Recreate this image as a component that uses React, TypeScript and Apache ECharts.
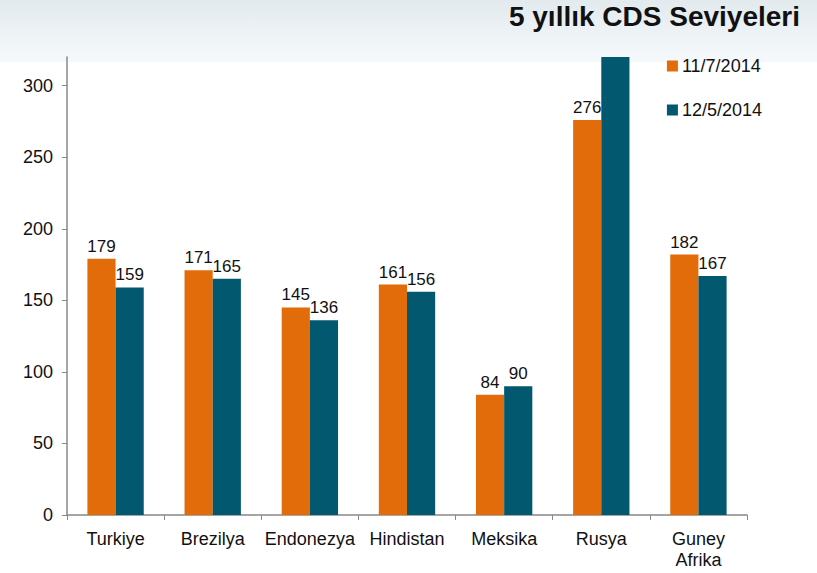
import React, { useEffect, useRef } from "react";
import * as echarts from "echarts";

const categories = ["Turkiye", "Brezilya", "Endonezya", "Hindistan", "Meksika", "Rusya", "Guney\nAfrika"];
const seriesNov = [179, 171, 145, 161, 84, 276, 182];
const seriesMay = [159, 165, 136, 156, 90, 340, 167];
const hiddenLabelIndexMay = [5];
const yTicks = [0, 50, 100, 150, 200, 250, 300];
const legendNames = ["11/7/2014", "12/5/2014"];
const titleText = "5 yıllık CDS Seviyeleri";

const FONT = "Arial, 'Liberation Sans', sans-serif";

export default function App() {
  const ref = useRef<HTMLDivElement>(null);
  useEffect(() => {
    if (!ref.current) return;
    const chart = echarts.init(ref.current, null, { renderer: "svg" });
    const labelStyle = {
      show: true,
      position: "top" as const,
      distance: 4,
      fontSize: 17,
      fontFamily: FONT,
      color: "#111",
    };
    chart.setOption({
      animation: false,
      backgroundColor: "#ffffff",
      graphic: [
        {
          type: "rect",
          left: 0,
          top: 0,
          z: -10,
          shape: { width: 817, height: 62 },
          style: {
            fill: new echarts.graphic.LinearGradient(0, 0, 0, 1, [
              { offset: 0, color: "#e2eaee" },
              { offset: 1, color: "#f6f9fb" },
            ]),
          },
        },
        {
          type: "text",
          right: 17,
          top: 2,
          style: {
            text: titleText,
            font: `bold 28px ${FONT}`,
            fill: "#111",
          },
        },
      ],
      legend: {
        orient: "vertical",
        right: 55,
        top: 57,
        padding: 0,
        itemWidth: 11,
        itemHeight: 11,
        itemGap: 26,
        icon: "rect",
        textStyle: { fontSize: 18, fontFamily: FONT, color: "#111", padding: [0, 0, 0, -1] },
        data: legendNames,
      },
      grid: { left: 67, right: 70, top: 57, bottom: 58, containLabel: false },
      xAxis: {
        type: "category",
        data: categories,
        axisLine: { lineStyle: { color: "#888", width: 1.5 } },
        axisTick: { show: true, length: 5, lineStyle: { color: "#888" } },
        axisLabel: { fontSize: 18, fontFamily: FONT, color: "#111", margin: 13, lineHeight: 21, interval: 0 },
      },
      yAxis: {
        type: "value",
        min: 0,
        max: 320,
        interval: 50,
        splitLine: { show: false },
        axisLine: { show: true, lineStyle: { color: "#888", width: 1.5 } },
        axisTick: { show: true, length: 5, lineStyle: { color: "#888" }, customValues: yTicks },
        axisLabel: { fontSize: 18, fontFamily: FONT, color: "#111", margin: 14, customValues: yTicks },
      },
      series: [
        {
          name: legendNames[0],
          type: "bar",
          data: seriesNov,
          barGap: "0%",
          barCategoryGap: "42%",
          itemStyle: { color: "#E36C0A" },
          label: labelStyle,
        },
        {
          name: legendNames[1],
          type: "bar",
          data: seriesMay.map((v, i) =>
            hiddenLabelIndexMay.includes(i) ? { value: v, label: { show: false } } : v
          ),
          barGap: "0%",
          barCategoryGap: "42%",
          itemStyle: { color: "#02586E" },
          label: labelStyle,
        },
      ],
    });
    return () => chart.dispose();
  }, []);
  return (
    <div
      ref={ref}
      style={{ position: "fixed", left: 0, top: 0, width: 817, height: 573 }}
    />
  );
}
